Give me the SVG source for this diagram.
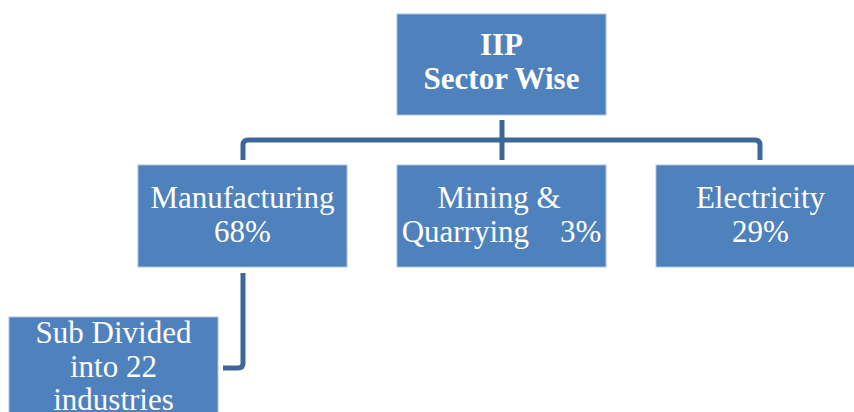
<svg xmlns="http://www.w3.org/2000/svg" width="854" height="412" viewBox="0 0 854 412">
<style>
.box{fill:#4F81BD;stroke:#A9C0DF;stroke-width:1}
.t{font-family:"Liberation Serif","Times New Roman",serif;font-size:31px;fill:#FFFFFF;text-anchor:middle}
.b{font-weight:bold;font-size:31px}
.c{fill:none;stroke:#3D6797;stroke-width:5;stroke-linejoin:round}
</style>
<rect width="854" height="412" fill="#FFFFFF"/>
<g id="connectors">
<path class="c" d="M243,160 V145 Q243,140 248,140 H755 Q760,140 760,145 V160"/>
<path class="c" d="M502,120 V160"/>
<path class="c" d="M243,273 V363 Q243,368 238,368 H223"/>
</g>
<g id="iip">
<rect class="box" x="397" y="14" width="209" height="101"/>
<text class="t b" x="501.5" y="55">IIP</text>
<text class="t b" x="501.5" y="89">Sector Wise</text>
</g>
<g id="manufacturing">
<rect class="box" x="138" y="165" width="209" height="102"/>
<text class="t" x="242.5" y="208">Manufacturing</text>
<text class="t" x="242.5" y="242">68%</text>
</g>
<g id="mining">
<rect class="box" x="397" y="165" width="209" height="102"/>
<text class="t" x="499" y="208">Mining &amp;</text>
<text class="t" x="501.5" y="242" xml:space="preserve">Quarrying    3%</text>
</g>
<g id="electricity">
<rect class="box" x="656" y="165" width="209" height="102"/>
<text class="t" x="760.5" y="208">Electricity</text>
<text class="t" x="760.5" y="242">29%</text>
</g>
<g id="subdivided">
<rect class="box" x="9" y="317" width="209" height="102"/>
<text class="t" x="113.5" y="343">Sub Divided</text>
<text class="t" x="113.5" y="377">into 22</text>
<text class="t" x="113.5" y="410">industries</text>
</g>
</svg>
